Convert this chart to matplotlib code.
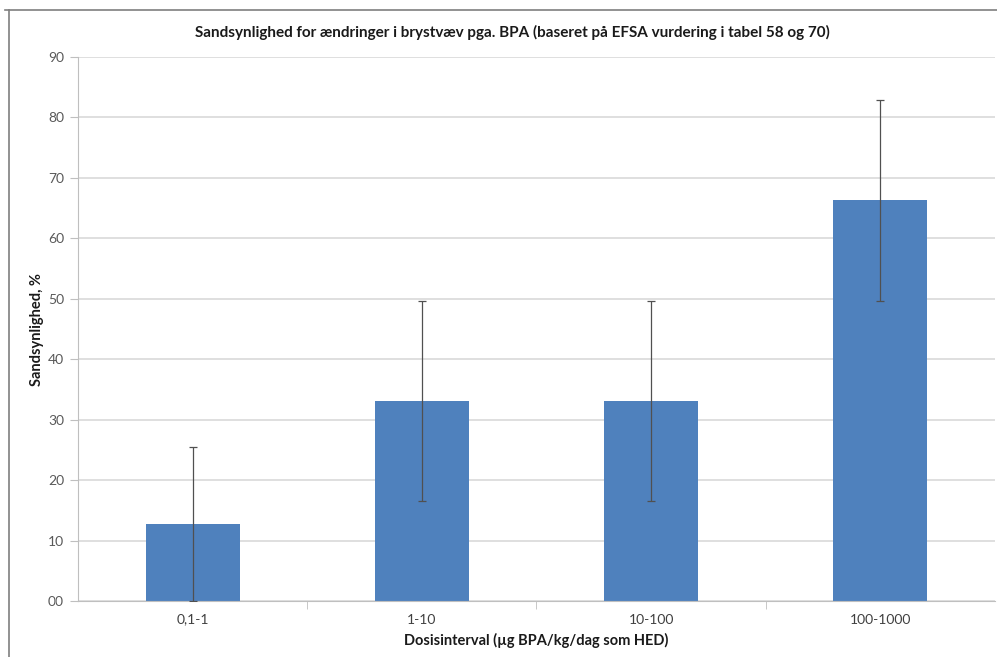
import matplotlib
matplotlib.use("Agg")
import matplotlib.pyplot as plt
from matplotlib.lines import Line2D
import numpy as np

# data
categories = ["0,1-1", "1-10", "10-100", "100-1000"]
probability = [12.7, 33.1, 33.1, 66.3]
err_low = [12.7, 16.6, 16.6, 16.6]
err_high = [12.7, 16.6, 16.6, 16.6]
yticks = [0, 10, 20, 30, 40, 50, 60, 70, 80, 90]
ytick_labels = ["00", "10", "20", "30", "40", "50", "60", "70", "80", "90"]

plt.rcParams['font.family'] = ['Lato', 'DejaVu Sans']

fig = plt.figure(figsize=(9.97, 6.57), dpi=100)
ax = fig.add_axes([0.0782, 0.0852, 0.9198, 0.828])

x = np.arange(len(categories)) + 0.5
ax.bar(x, probability, width=0.41, color='#4F81BD', zorder=2)
ax.errorbar(x, probability, yerr=[err_low, err_high], fmt='none',
            ecolor='#505050', elinewidth=0.9, capsize=3, capthick=0.9, zorder=3)

ax.set_xlim(0, len(categories))
ax.set_ylim(0, 90)
ax.set_yticks(yticks)
ax.set_yticklabels(ytick_labels)
ax.set_xticks(x)
ax.set_xticklabels(categories)
ax.set_xticks(np.arange(1, len(categories)), minor=True)

ax.yaxis.grid(True, color='#D9D9D9', linewidth=1.2, zorder=0)
ax.set_axisbelow(True)
for s in ['top', 'right']:
    ax.spines[s].set_visible(False)
ax.spines['left'].set_color('#BFBFBF')
ax.spines['bottom'].set_color('#BFBFBF')
ax.tick_params(axis='y', length=6, color='#BFBFBF', labelsize=10, labelcolor='#595959', pad=4)
ax.tick_params(axis='x', which='major', length=0, labelsize=10, labelcolor='#404040', pad=9)
ax.tick_params(axis='x', which='minor', length=6, color='#BFBFBF')

# title is centred on the whole chart area, not on the plot area
fig.text(512 / 997, 1 - 32 / 657,
         "Sandsynlighed for ændringer i brystvæv pga. BPA (baseret på EFSA vurdering i tabel 58 og 70)",
         fontsize=11, fontweight='bold', color='#1a1a1a', ha='center', va='center')
ax.set_xlabel("Dosisinterval (µg BPA/kg/dag som HED)", fontsize=10.5, fontweight='bold', color='#1a1a1a', labelpad=5)
ax.set_ylabel("Sandsynlighed, %", fontsize=10.5, fontweight='bold', color='#1a1a1a', labelpad=3)

# outer frame of the pasted chart
fig.add_artist(Line2D([0.009, 0.009], [0.0, 0.985], color='#7f7f7f', linewidth=1.2))
fig.add_artist(Line2D([0.005, 1.0], [0.985, 0.985], color='#7f7f7f', linewidth=1.2))

fig.savefig("out.png", dpi=100)
